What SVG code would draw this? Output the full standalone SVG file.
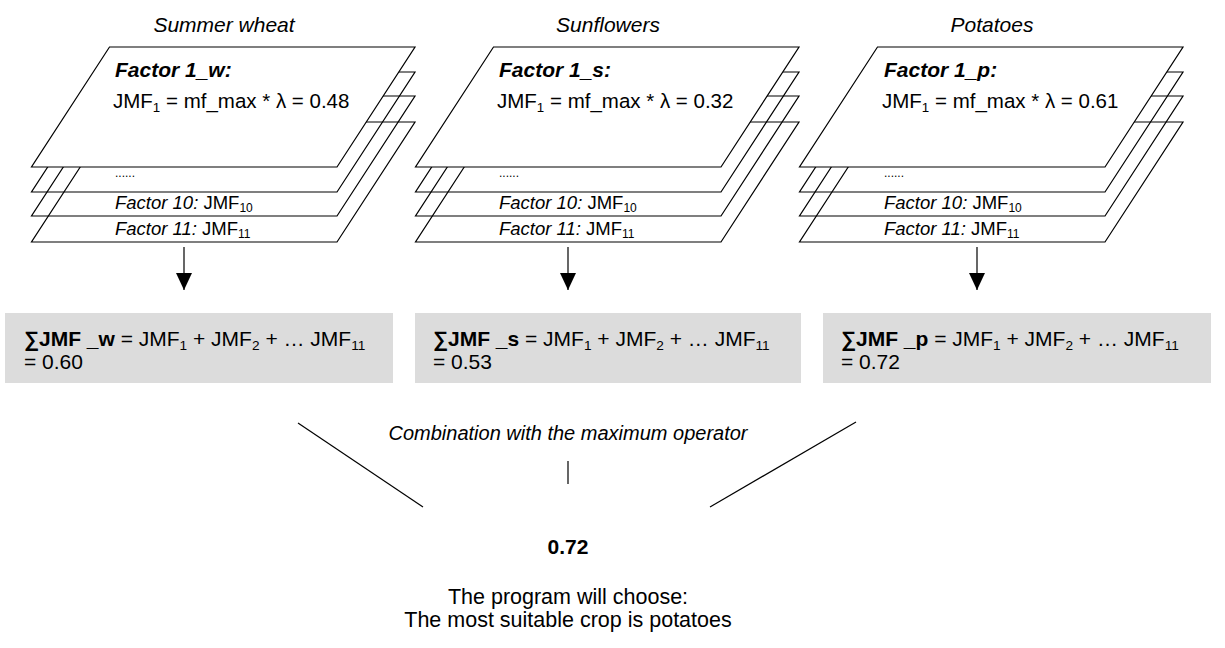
<svg xmlns="http://www.w3.org/2000/svg" xmlns:xlink="http://www.w3.org/1999/xlink" width="1225" height="648" viewBox="0 0 1225 648">
<style>
text{font-family:"Liberation Sans",Arial,sans-serif;fill:#000}
.title{font-size:21px;font-style:italic;text-anchor:middle}
.f1{font-size:21px;font-weight:bold;font-style:italic}
.eq{font-size:20.5px}
.dots{font-size:12px}
.fac{font-size:18.5px}
.it{font-style:italic}
.sub{font-size:0.65em}
.box{fill:#dcdcdc}
.bt{font-size:21px}
.b{font-weight:bold}
.back{fill:none;stroke:#000;stroke-width:1.2}
.front{fill:#fff;stroke:#000;stroke-width:1.2}
.conn{stroke:#000;stroke-width:1.2;fill:none}
.mid{text-anchor:middle}
</style>
<defs>
<path id="layer" d="M78,0 H383.5 L305.5,120 H0 Z"/>
<marker id="ah" viewBox="0 0 17 16" refX="17" refY="8" markerWidth="17" markerHeight="16" markerUnits="userSpaceOnUse" orient="auto">
<path d="M0,0 L17,8 L0,16 Z" fill="#000"/>
</marker>
</defs>
<rect width="1225" height="648" fill="#fff"/>

<g id="titles">
<text class="title" x="224" y="32">Summer wheat</text>
<text class="title" x="608" y="32">Sunflowers</text>
<text class="title" x="992" y="32">Potatoes</text>
</g>

<g id="stack-wheat">
<use href="#layer" class="back" x="31.5" y="122"/>
<use href="#layer" class="back" x="31.5" y="96"/>
<use href="#layer" class="back" x="31.5" y="72"/>
<use href="#layer" class="front" x="31.5" y="47"/>
<text class="f1" x="115" y="77">Factor 1_w:</text>
<text class="eq" x="113" y="108">JMF<tspan class="sub" dy="4">1</tspan><tspan dy="-4"> = mf_max * λ = 0.48</tspan></text>
<text class="dots" x="115" y="177">......</text>
<text class="fac" x="115" y="209"><tspan class="it">Factor 10:</tspan> JMF<tspan class="sub" dy="3">10</tspan></text>
<text class="fac" x="115" y="235"><tspan class="it">Factor 11:</tspan> JMF<tspan class="sub" dy="3">11</tspan></text>
</g>

<g id="stack-sunflowers">
<use href="#layer" class="back" x="415.5" y="122"/>
<use href="#layer" class="back" x="415.5" y="96"/>
<use href="#layer" class="back" x="415.5" y="72"/>
<use href="#layer" class="front" x="415.5" y="47"/>
<text class="f1" x="499" y="77">Factor 1_s:</text>
<text class="eq" x="497" y="108">JMF<tspan class="sub" dy="4">1</tspan><tspan dy="-4"> = mf_max * λ = 0.32</tspan></text>
<text class="dots" x="499" y="177">......</text>
<text class="fac" x="499" y="209"><tspan class="it">Factor 10:</tspan> JMF<tspan class="sub" dy="3">10</tspan></text>
<text class="fac" x="499" y="235"><tspan class="it">Factor 11:</tspan> JMF<tspan class="sub" dy="3">11</tspan></text>
</g>

<g id="stack-potatoes">
<use href="#layer" class="back" x="799.5" y="122"/>
<use href="#layer" class="back" x="799.5" y="96"/>
<use href="#layer" class="back" x="799.5" y="72"/>
<use href="#layer" class="front" x="799.5" y="47"/>
<text class="f1" x="884" y="77">Factor 1_p:</text>
<text class="eq" x="882" y="108">JMF<tspan class="sub" dy="4">1</tspan><tspan dy="-4"> = mf_max * λ = 0.61</tspan></text>
<text class="dots" x="884" y="177">......</text>
<text class="fac" x="884" y="209"><tspan class="it">Factor 10:</tspan> JMF<tspan class="sub" dy="3">10</tspan></text>
<text class="fac" x="884" y="235"><tspan class="it">Factor 11:</tspan> JMF<tspan class="sub" dy="3">11</tspan></text>
</g>

<g id="sum-wheat">
<rect class="box" x="5" y="313" width="388" height="70"/>
<text class="bt" x="24" y="346"><tspan class="b">∑JMF _w</tspan> = JMF<tspan class="sub" dy="4">1</tspan><tspan dy="-4"> + JMF</tspan><tspan class="sub" dy="4">2</tspan><tspan dy="-4"> + … JMF</tspan><tspan class="sub" dy="4">11</tspan></text>
<text class="bt" x="24" y="369">= 0.60</text>
</g>

<g id="sum-sunflowers">
<rect class="box" x="415" y="313" width="386" height="70"/>
<text class="bt" x="433" y="346"><tspan class="b">∑JMF _s</tspan> = JMF<tspan class="sub" dy="4">1</tspan><tspan dy="-4"> + JMF</tspan><tspan class="sub" dy="4">2</tspan><tspan dy="-4"> + … JMF</tspan><tspan class="sub" dy="4">11</tspan></text>
<text class="bt" x="433" y="369">= 0.53</text>
</g>

<g id="sum-potatoes">
<rect class="box" x="823" y="313" width="388" height="70"/>
<text class="bt" x="841" y="346"><tspan class="b">∑JMF _p</tspan> = JMF<tspan class="sub" dy="4">1</tspan><tspan dy="-4"> + JMF</tspan><tspan class="sub" dy="4">2</tspan><tspan dy="-4"> + … JMF</tspan><tspan class="sub" dy="4">11</tspan></text>
<text class="bt" x="841" y="369">= 0.72</text>
</g>

<g id="combination">
<text class="mid it" x="568" y="440" font-size="20">Combination with the maximum operator</text>
</g>

<g id="result">
<text class="mid b" x="568" y="554" font-size="21">0.72</text>
</g>

<g id="decision">
<text class="mid" x="568" y="604" font-size="21.5">The program will choose:</text>
<text class="mid" x="568" y="627" font-size="21.5">The most suitable crop is potatoes</text>
</g>

<g id="connectors">
<line class="conn" x1="184" y1="247" x2="184" y2="290" marker-end="url(#ah)"/>
<line class="conn" x1="568" y1="247" x2="568" y2="290" marker-end="url(#ah)"/>
<line class="conn" x1="977" y1="247" x2="977" y2="290" marker-end="url(#ah)"/>
<line class="conn" x1="298" y1="423" x2="423" y2="507"/>
<line class="conn" x1="568" y1="461" x2="568" y2="484"/>
<line class="conn" x1="856" y1="422" x2="710" y2="507"/>
</g>
</svg>
